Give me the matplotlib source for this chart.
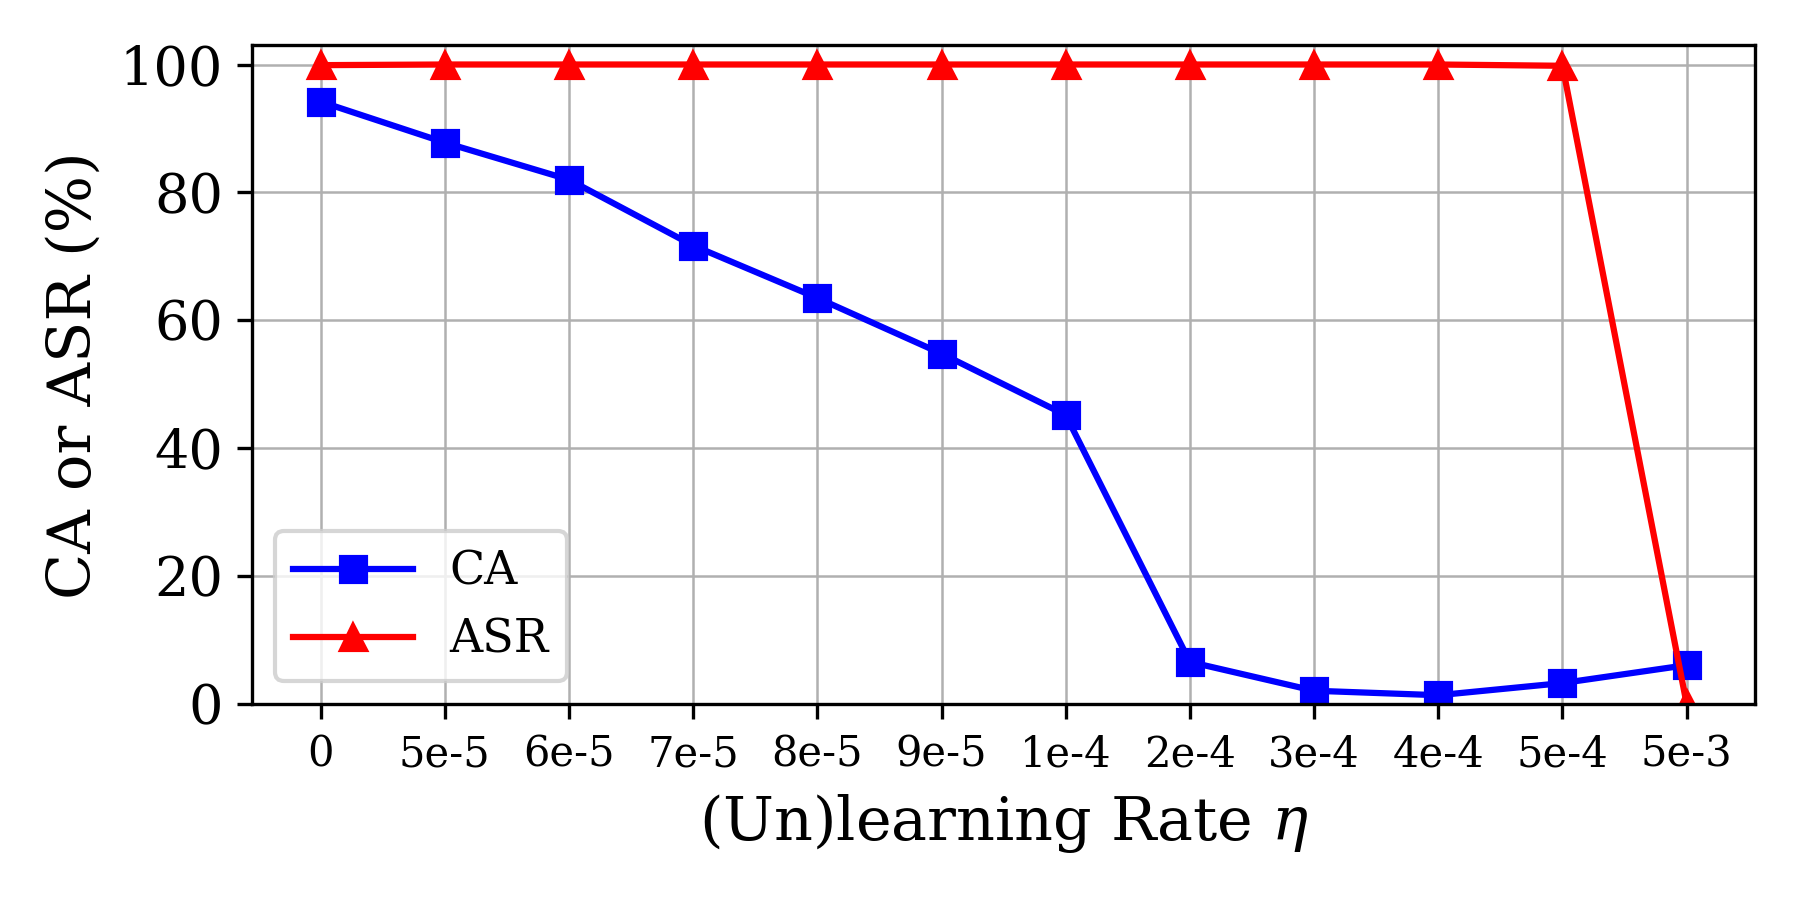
import numpy as np
import matplotlib.pyplot as plt

plt.rcParams['font.family'] = 'DejaVu Serif'
plt.rcParams['mathtext.fontset'] = 'dejavuserif'

rates = ['0', '5e-5', '6e-5', '7e-5', '8e-5', '9e-5', '1e-4', '2e-4', '3e-4', '4e-4', '5e-4', '5e-3']
ca = [94.2, 87.8, 82.0, 71.7, 63.5, 54.8, 45.2, 6.6, 2.1, 1.4, 3.3, 6.1]
asr = [99.9, 100.0, 100.0, 100.0, 100.0, 100.0, 100.0, 100.0, 100.0, 100.0, 99.8, 0.0]

x = np.arange(len(rates))
fig, ax = plt.subplots(figsize=(6, 3), dpi=300)
ax.plot(x, ca, color='blue', marker='s', markersize=6, label='CA')
ax.plot(x, asr, color='red', marker='^', markersize=6, label='ASR')
ax.set_xticks(x)
ax.set_xticklabels(rates, fontsize=10)
ax.tick_params(axis='y', labelsize=13)
ax.set_ylim(0, 103)
ax.set_xlim(-0.55, 11.55)
ax.set_yticks([0, 20, 40, 60, 80, 100])
ax.set_xlabel(r'(Un)learning Rate $\eta$', fontsize=14.5)
ax.set_ylabel('CA or ASR (%)', fontsize=14.5)
ax.grid(True, color='#b0b0b0', linewidth=0.6)
ax.legend(loc='lower left', fontsize=11, handlelength=2.6)
fig.tight_layout()
fig.savefig('out.png')
